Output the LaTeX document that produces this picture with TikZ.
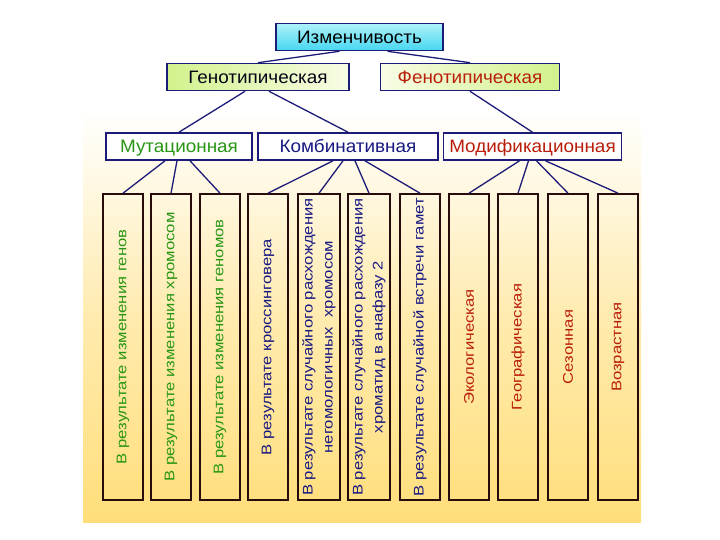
\documentclass[tikz,border=0pt]{standalone}
\usepackage{fontspec}
\setmainfont{Liberation Sans}
\newfontfamily\labelfont[FakeStretch=1.05]{Liberation Sans}
\newfontfamily\causefont[FakeStretch=1.19]{Liberation Sans}
\definecolor{navyline}{RGB}{28,28,120}
\definecolor{boxdark}{RGB}{40,12,12}
\definecolor{mutgreen}{RGB}{40,150,20}
\definecolor{combblue}{RGB}{25,25,130}
\definecolor{modred}{RGB}{185,30,10}
\definecolor{paleyellow}{RGB}{255,222,122}
\definecolor{lightcyan}{RGB}{175,242,250}
\definecolor{deepcyan}{RGB}{70,214,240}
\definecolor{limegreen}{RGB}{210,242,140}
\definecolor{limewhite}{RGB}{248,252,230}
\begin{document}
\begin{tikzpicture}[x=1pt, y=-1pt,
    kind/.style={draw=navyline, line width=1.6pt, fill=white, inner sep=0pt,
      minimum height=27pt, text height=12.5pt, text depth=0pt,
      font=\labelfont\fontsize{18}{21}\selectfont},
    cause/.style={draw=boxdark, line width=1.6pt, inner sep=0pt,
      minimum width=40pt, minimum height=306pt},
    causetext/.style={rotate=90, align=center, inner sep=0pt,
      font=\causefont\fontsize{14}{20}\selectfont},
    link/.style={draw=navyline, line width=1.3pt}]
  \useasboundingbox (0,0) rectangle (720,540);
  % background
  \shade[top color=white, bottom color=paleyellow, middle color=white!40!paleyellow]
    (83,110) rectangle (641,522);
  % top levels
  \node[kind, minimum width=167pt, top color=lightcyan, bottom color=deepcyan] (izm) at (359.5,37) {Изменчивость};
  \node[kind, minimum width=182pt, left color=limegreen, right color=limewhite, text=black!80!navyline] (geno) at (258,77) {Генотипическая};
  \node[kind, minimum width=179pt, left color=limewhite, right color=limegreen, text=modred] (feno) at (470,77) {Фенотипическая};
  \node[kind, minimum width=146pt, text=mutgreen] (mut) at (179,146.5) {Мутационная};
  \node[kind, minimum width=180pt, text=combblue] (komb) at (348,146.5) {Комбинативная};
  \node[kind, minimum width=178pt, text=modred] (modif) at (532.5,146.5) {Модификационная};
  % bottom boxes
  \node[cause] (b1) at (123,347) {};
  \node[cause] (b2) at (171,347) {};
  \node[cause] (b3) at (220,347) {};
  \node[cause] (b4) at (268,347) {};
  \node[cause, minimum width=42pt] (b5) at (319,347) {};
  \node[cause, minimum width=42pt] (b6) at (369,347) {};
  \node[cause] (b7) at (420,347) {};
  \node[cause] (b8) at (469,347) {};
  \node[cause] (b9) at (518,347) {};
  \node[cause] (b10) at (568,347) {};
  \node[cause] (b11) at (618,347) {};
  \node[causetext, text=mutgreen] (t1) at (b1) {В результате изменения генов};
  \node[causetext, text=mutgreen] (t2) at (b2) {В результате изменения хромосом};
  \node[causetext, text=mutgreen] (t3) at (b3) {В результате изменения геномов};
  \node[causetext, text=combblue] (t4) at (b4) {В результате кроссинговера};
  \node[causetext, text=combblue] (t5) at (b5) {В результате случайного расхождения\\негомологичных\ \ хромосом};
  \node[causetext, text=combblue] (t6) at (b6) {В результате случайного расхождения\\хроматид в анафазу 2};
  \node[causetext, text=combblue] (t7) at (b7) {В результате случайной встречи гамет};
  \node[causetext, text=modred] (t8) at (b8) {Экологическая};
  \node[causetext, text=modred] (t9) at (b9) {Географическая};
  \node[causetext, text=modred] (t10) at (b10) {Сезонная};
  \node[causetext, text=modred] (t11) at (b11) {Возрастная};
  % connectors
  \draw[link] ([xshift=-20pt]izm.south) -- (geno.north);
  \draw[link] ([xshift=28pt]izm.south) -- (feno.north);
  \draw[link] ([xshift=-13pt]geno.south) -- (mut.north);
  \draw[link] ([xshift=11pt]geno.south) -- (komb.north);
  \draw[link] (feno.south) -- (modif.north);
  \draw[link] ([xshift=-14pt]mut.south) -- (b1.north);
  \draw[link] ([xshift=-2pt]mut.south) -- (b2.north);
  \draw[link] ([xshift=11pt]mut.south) -- (b3.north);
  \draw[link] ([xshift=-15pt]komb.south) -- (b4.north);
  \draw[link] ([xshift=-5pt]komb.south) -- (b5.north);
  \draw[link] ([xshift=7pt]komb.south) -- (b6.north);
  \draw[link] ([xshift=17pt]komb.south) -- (b7.north);
  \draw[link] ([xshift=-13pt]modif.south) -- (b8.north);
  \draw[link] ([xshift=-4pt]modif.south) -- (b9.north);
  \draw[link] ([xshift=4pt]modif.south) -- (b10.north);
  \draw[link] ([xshift=13pt]modif.south) -- (b11.north);
\end{tikzpicture}
\end{document}
